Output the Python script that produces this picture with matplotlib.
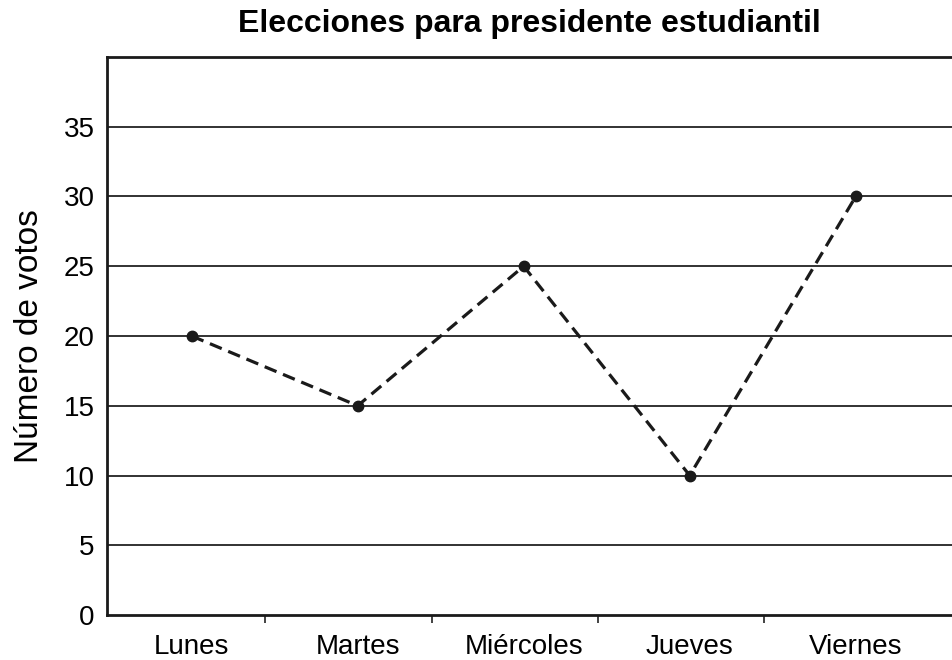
import matplotlib
matplotlib.use('Agg')
import matplotlib.pyplot as plt

plt.rcParams['font.family'] = ['Liberation Sans', 'DejaVu Sans']

# data
dias = ['Lunes', 'Martes', 'Miércoles', 'Jueves', 'Viernes']
votos = [20, 15, 25, 10, 30]
yticks = [0, 5, 10, 15, 20, 25, 30, 35]

fig = plt.figure(figsize=(9.52, 6.6), dpi=100)
ax = fig.add_axes([107/952, 45/660, 1 - 107/952, 558/660])

x = list(range(len(dias)))
ax.plot(x, votos, color='#1a1a1a', linestyle=(0, (4, 2.2)), linewidth=2.3,
        marker='o', markersize=7.5, zorder=3)

ax.set_xlim(-0.51, 4.58)
ax.set_ylim(0, 40)
ax.set_yticks(yticks)
for y in yticks[1:]:
    ax.axhline(y, color='#222222', linewidth=1.3, zorder=1)

ax.set_xticks(x)
ax.set_xticklabels(dias, fontsize=20)
ax.tick_params(axis='x', which='major', length=0, pad=14)
ax.set_xticks([0.44, 1.446, 2.446, 3.446], minor=True)
ax.tick_params(axis='x', which='minor', length=6, width=1.2, direction='out', color='#222222')
ax.tick_params(axis='y', length=0, pad=9, labelsize=20)

for s in ['left', 'bottom', 'top']:
    ax.spines[s].set_linewidth(2)
    ax.spines[s].set_color('#1a1a1a')
ax.spines['right'].set_visible(False)

ax.set_ylabel('Número de votos', fontsize=24, labelpad=13)
ax.set_title('Elecciones para presidente estudiantil', fontsize=23, fontweight='bold', pad=18)

fig.savefig('out.png', dpi=100)
